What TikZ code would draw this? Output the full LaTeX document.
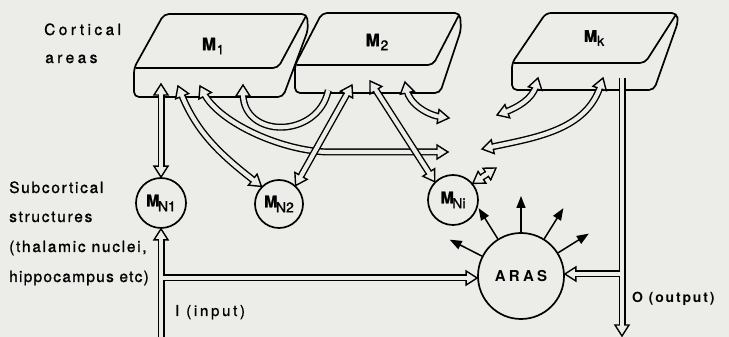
\documentclass[tikz,border=0pt]{standalone}
\usepackage{fontspec}
\setmainfont{TeX Gyre Heros}
\usetikzlibrary{arrows.meta,decorations.markings,calc}
\definecolor{paper}{RGB}{236,236,233}
% open arrow head placed by a marking; #1 = rotation
\newcommand\hollowtip[1]{%
  \filldraw[draw=black, fill=paper, line width=1.4pt, line join=miter,
    shorten >=0pt, shorten <=0pt, rotate=#1]
    (-11,2.1) -- (-11,7) -- (0,0) -- (-11,-7) -- (-11,-2.1);}
% module name: bold M with a lowered index
\newcommand\modlabel[5]{{\fontsize{#1}{#1}\selectfont\bfseries\addfontfeature{FakeBold=1.5}M}\kern#5\raisebox{#4}{\fontsize{#3}{#3}\selectfont\addfontfeature{FakeBold=1}#2}}
\begin{document}
\begin{tikzpicture}[x=1pt, y=1pt,
  box/.style={draw=black, fill=paper, line width=1.7pt, rounded corners=5pt, line join=round},
  boxedge/.style={draw=black, line width=1.7pt, rounded corners=5pt},
  nucleus/.style={circle, draw=black, fill=paper, line width=1.7pt, inner sep=0pt},
  hollow/.style={draw=black, line width=7pt, postaction={draw=paper, line width=4.2pt}},
  tipend/.style={shorten >=8.5pt, postaction={decorate, decoration={markings, mark=at position 1 with {\hollowtip{0}}}}},
  tipstart/.style={shorten <=8.5pt, postaction={decorate, decoration={markings, mark=at position 0 with {\hollowtip{180}}}}},
  twoway/.style={hollow, tipstart, tipend},
  ray/.style={draw=black, line width=1.5pt, -{Triangle[length=12pt, width=9pt]}},
  side/.style={anchor=base west, inner sep=0pt, font=\fontsize{15.5}{18}\selectfont\addfontfeature{LetterSpace=11,FakeBold=1}},
]
\fill[paper] (0,0) rectangle (729,337);
\useasboundingbox (0,0) rectangle (729,337);

% cortical modules drawn as slabs
\filldraw[box] (134,240) -- (134,269) -- (164,323) -- (307,323) -- (308,307) -- (283,240) -- cycle;
\draw[boxedge] (135.5,269) -- (278,269) -- (306.1,321.2);
\filldraw[box] (295,244) -- (295,272) -- (322,324) -- (460,324) -- (461,307) -- (440,244) -- cycle;
\draw[boxedge] (296.5,272) -- (433,272) -- (459.1,322.2);
\filldraw[box] (512,247) -- (512,274) -- (546,324) -- (677,324) -- (678,315) -- (654,247) -- cycle;
\draw[boxedge] (513.5,274) -- (645,274) -- (675.9,322.3);

\node (lM1) at (213,291) {\modlabel{17}{1}{13}{-4pt}{0.8pt}};
\node (lM2) at (377,295) {\modlabel{17}{2}{14}{-4pt}{0.8pt}};
\node (lMk) at (594,299) {\modlabel{16}{k}{14}{-4pt}{0pt}};

% subcortical nuclei and the activating system
\node[nucleus, minimum size=50pt] (MN1) at (161,134) {\modlabel{16}{N1}{14}{-5pt}{-1.5pt}};
\node[nucleus, minimum size=48pt] (MN2) at (279,133) {\modlabel{16}{N2}{14}{-5pt}{-1.5pt}};
\node[nucleus, minimum size=50pt] (MNi) at (453,137) {\modlabel{16}{Ni}{14}{-5pt}{-1.5pt}};
\node[nucleus, minimum size=86pt, font=\fontsize{15}{15}\selectfont\bfseries\addfontfeature{LetterSpace=22}] (ARAS) at (521,61) {ARAS};

% attachment points on the module undersides
\coordinate (m1a) at (161,253);
\coordinate (m1b) at (178,251);
\coordinate (m1c) at (200,251);
\coordinate (m1d) at (243,252);
\coordinate (m2a) at (330,255);
\coordinate (m2b) at (352,252);
\coordinate (m2c) at (370,256);
\coordinate (m2d) at (405,255);
\coordinate (mka) at (538,259);
\coordinate (mkb) at (603,259);
\coordinate (mkout) at (622,259);
\coordinate (gapL) at (448,185);
\coordinate (gapR) at (482,188);
\coordinate (gap2L) at (449,219);
\coordinate (gap2R) at (497,222);
\coordinate (niTail) at (496,169);
\coordinate (inbottom) at (161,-2);
\coordinate (injoin) at (163.1,59);
\coordinate (outbottom) at (622,1);
\coordinate (outjoin) at (619.9,63);

% reciprocal pathways
\draw[twoway] (m1a) -- (MN1.north);
\draw[twoway] (m1b) to[out=-68, in=142] (MN2.135);
\draw[twoway] (m1c) .. controls (220,213) and (285,185) .. (330,185) -- (gapL);
\draw[twoway] (m1d) .. controls (243,198) and (318,198) .. (m2a);
\draw[twoway] (m2d) to[out=-78, in=172] (gap2L);
\draw[twoway] (mka) to[out=-105, in=20] (gap2R);
\draw[twoway] (mkb) to[out=-108, in=12] (gapR);
\draw[twoway] (m2b) -- (MN2.48);
\draw[twoway] (m2c) -- (MNi.135);
\draw[twoway] (MNi.40) -- (niTail);

% input and output lines
\draw[hollow, tipend] (inbottom) -- (MN1.south);
\draw[hollow, tipend] (injoin) -- (ARAS.west |- injoin);
\draw[hollow, tipend] (mkout) -- (outbottom);
\draw[hollow, tipend] (outjoin) -- (ARAS.east |- outjoin);

% diffuse projections of the ARAS
\foreach \a in {32,58,90,122,153}
  \draw[ray] (ARAS.\a) -- ($(ARAS.center)!80pt!(ARAS.\a)$);

% labels
\node[side, font=\fontsize{15.5}{18}\selectfont\addfontfeature{LetterSpace=22,FakeBold=1}] (c1) at (44,302) {Cortical};
\node[side, font=\fontsize{15.5}{18}\selectfont\addfontfeature{LetterSpace=22,FakeBold=1}] (c2) at (45,274) {areas};
\node[side] (s1) at (9,144) {Subcortical};
\node[side] (s2) at (9,115) {structures};
\node[side] (s3) at (9,85) {(thalamic nuclei,};
\node[side, font=\fontsize{15.5}{18}\selectfont\addfontfeature{LetterSpace=8,FakeBold=1}] (s4) at (9,55) {hippocampus etc)};
\node[side, font=\fontsize{15}{18}\selectfont\addfontfeature{LetterSpace=18,FakeBold=1}] (tin) at (175,21) {I (input)};
\node[side, font=\fontsize{14}{18}\selectfont\bfseries\addfontfeature{LetterSpace=13}] (tout) at (632,34) {O (output)};
\end{tikzpicture}
\end{document}
